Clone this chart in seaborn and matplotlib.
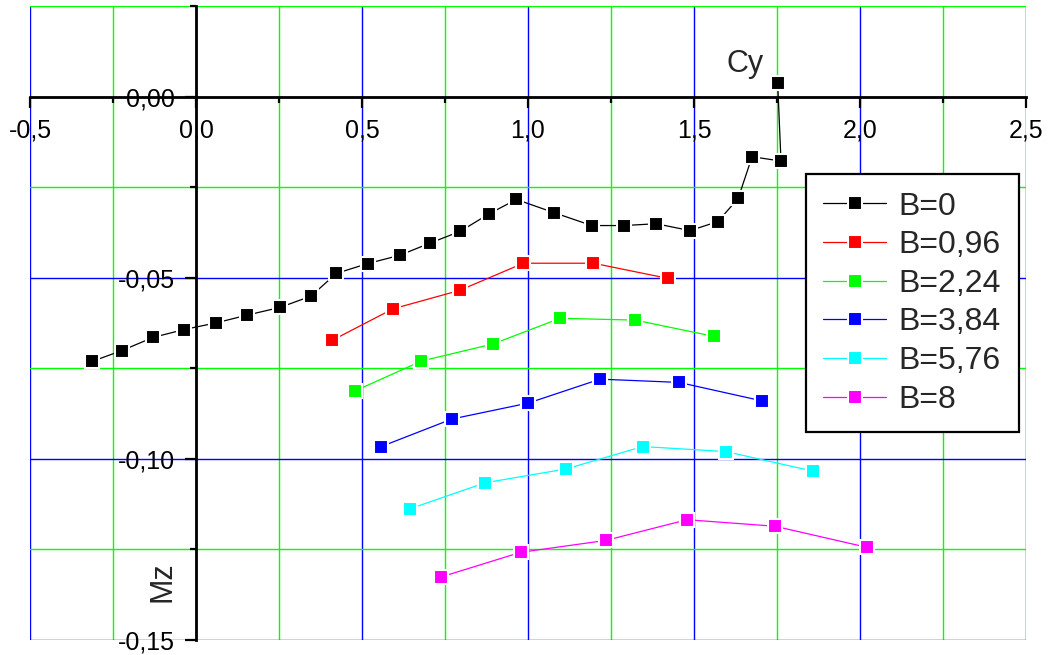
import pandas as pd
import matplotlib
matplotlib.use("Agg")
import matplotlib.pyplot as plt
from matplotlib.ticker import FixedLocator, FuncFormatter
import seaborn as sns

sns.set_style("white")
plt.rcParams['font.family'] = ['Liberation Sans', 'DejaVu Sans']

# Cy / Mz readings per B value
cy_b0 = [-0.313, -0.223, -0.130, -0.036, 0.059, 0.155, 0.253, 0.346, 0.423, 0.517,
         0.614, 0.706, 0.796, 0.882, 0.965, 1.077, 1.192, 1.289, 1.386, 1.488,
         1.572, 1.633, 1.675, 1.762, 1.752]
mz_b0 = [-0.0731, -0.0701, -0.0665, -0.0643, -0.0625, -0.0603, -0.0582, -0.0551, -0.0488, -0.0461,
         -0.0438, -0.0404, -0.0372, -0.0324, -0.0284, -0.0320, -0.0356, -0.0356, -0.0351, -0.0370,
         -0.0345, -0.0281, -0.0166, -0.0178, 0.0038]
cy_b096 = [0.410, 0.593, 0.794, 0.986, 1.197, 1.422]
mz_b096 = [-0.0673, -0.0586, -0.0535, -0.0460, -0.0460, -0.0502]
cy_b224 = [0.480, 0.679, 0.894, 1.097, 1.323, 1.560]
mz_b224 = [-0.0812, -0.0730, -0.0683, -0.0612, -0.0617, -0.0662]
cy_b384 = [0.558, 0.771, 1.001, 1.217, 1.455, 1.705]
mz_b384 = [-0.0966, -0.0890, -0.0846, -0.0780, -0.0789, -0.0840]
cy_b576 = [0.644, 0.871, 1.114, 1.346, 1.597, 1.859]
mz_b576 = [-0.1138, -0.1066, -0.1028, -0.0966, -0.0980, -0.1034]
cy_b8 = [0.738, 0.978, 1.235, 1.479, 1.744, 2.020]
mz_b8 = [-0.1326, -0.1258, -0.1225, -0.1168, -0.1186, -0.1244]

labels = ["B=0", "B=0,96", "B=2,24", "B=3,84", "B=5,76", "B=8"]
colors = ["#000000", "#ff0000", "#00ff00", "#0000ff", "#00ffff", "#ff00ff"]
series = [(cy_b0, mz_b0), (cy_b096, mz_b096), (cy_b224, mz_b224),
          (cy_b384, mz_b384), (cy_b576, mz_b576), (cy_b8, mz_b8)]

frames = []
for lab, (cy, mz) in zip(labels, series):
    frames.append(pd.DataFrame({'Cy': cy, 'Mz': mz, 'B': lab}))
df = pd.concat(frames, ignore_index=True)

fig = plt.figure(figsize=(10.48, 6.55), dpi=100)
ax = fig.add_axes([30 / 1048, 15 / 655, 996 / 1048, 634 / 655])

sns.lineplot(data=df, x='Cy', y='Mz', hue='B', hue_order=labels,
             palette=dict(zip(labels, colors)), sort=False, estimator=None,
             marker='s', markersize=10.5, markeredgecolor='white', markeredgewidth=1.5,
             linewidth=0.9, ax=ax, legend=False, zorder=3)

ax.set_xlim(-0.5, 2.5)
ax.set_ylim(-0.15, 0.025)

# axes cross at the origin
ax.spines['left'].set_position(('data', 0))
ax.spines['bottom'].set_position(('data', 0))
ax.spines['top'].set_visible(False)
ax.spines['right'].set_visible(False)
for s in ['left', 'bottom']:
    ax.spines[s].set_linewidth(2)
    ax.spines[s].set_color('black')
    ax.spines[s].set_zorder(5)

ax.xaxis.set_major_locator(FixedLocator([-0.5, 0, 0.5, 1.0, 1.5, 2.0, 2.5]))
ax.xaxis.set_minor_locator(FixedLocator([-0.25, 0.25, 0.75, 1.25, 1.75, 2.25]))
ax.yaxis.set_major_locator(FixedLocator([-0.15, -0.10, -0.05, 0.0]))
ax.yaxis.set_minor_locator(FixedLocator([-0.125, -0.075, -0.025, 0.025]))
ax.xaxis.set_major_formatter(FuncFormatter(lambda v, p: f"{v:.1f}".replace('.', ',')))
ax.yaxis.set_major_formatter(FuncFormatter(lambda v, p: f"{v:.2f}".replace('.', ',')))

ax.tick_params(which='both', bottom=True, left=True, top=False, right=False)
ax.tick_params(which='major', direction='out', length=8, width=1.6, labelsize=18, colors='black')
ax.tick_params(which='minor', direction='out', length=4, width=1.6, colors='black')
ax.tick_params(axis='x', which='major', pad=8)
ax.tick_params(axis='y', which='major', pad=7)

ax.grid(which='major', color='#0000ff', linewidth=1)
ax.grid(which='minor', color='#00ff00', linewidth=1)
ax.set_axisbelow(True)

ax.set_xlabel('')
ax.set_ylabel('')
ax.text(1.655, 0.0090, 'Cy', fontsize=22, ha='center', va='center')
ax.text(-0.102, -0.134, 'Mz', fontsize=22, ha='center', va='center', rotation=90)

handles = ax.lines[:len(labels)]
leg = ax.legend(handles, labels, loc='upper left', bbox_to_anchor=(0.779, 0.735),
                fontsize=23, frameon=True, fancybox=False, framealpha=1,
                edgecolor='black', handlelength=1.95, labelspacing=0.27,
                borderpad=0.55, handletextpad=0.4, borderaxespad=0)
leg.get_frame().set_linewidth(1.6)
leg.set_zorder(6)

fig.savefig('out.png', dpi=100, facecolor='white')
